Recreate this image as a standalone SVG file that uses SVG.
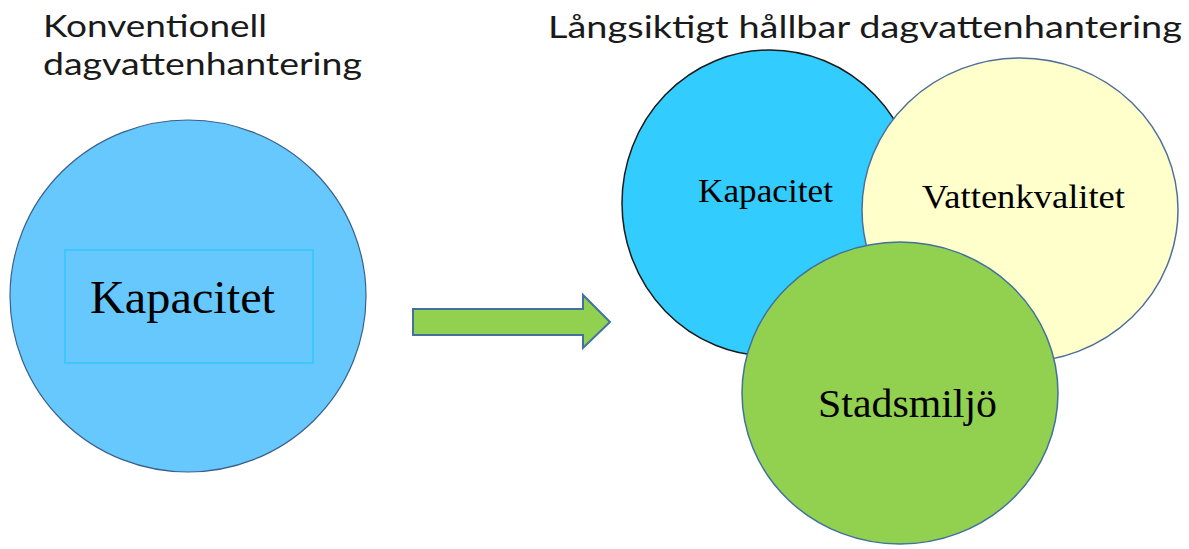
<svg xmlns="http://www.w3.org/2000/svg" width="1189" height="549" viewBox="0 0 1189 549">
  <style>
    .title { font-family: Lato, "Open Sans", sans-serif; font-size: 31px; fill: #1a1a1a; }
    .lbl { font-family: "Liberation Serif", "Times New Roman", serif; fill: #000; }
  </style>
  <rect width="1189" height="549" fill="#ffffff"/>

  <g id="title-left">
    <text class="title" x="43" y="37" textLength="224" lengthAdjust="spacingAndGlyphs">Konventionell</text>
    <text class="title" x="43" y="75" textLength="319" lengthAdjust="spacingAndGlyphs">dagvattenhantering</text>
  </g>
  <g id="title-right">
    <text class="title" x="548" y="38" textLength="634" lengthAdjust="spacingAndGlyphs">Långsiktigt hållbar dagvattenhantering</text>
  </g>

  <g id="node-konventionell">
    <ellipse cx="188" cy="296" rx="178" ry="176" fill="#66c8fc" stroke="#3a5f8c" stroke-width="1.2"/>
    <rect x="65" y="250" width="248" height="113" fill="none" stroke="#3fc6fa" stroke-width="2"/>
    <text class="lbl" x="90" y="313" font-size="46" textLength="185" lengthAdjust="spacingAndGlyphs">Kapacitet</text>
  </g>

  <g id="connectors">
    <path d="M413,309 L583,309 L583,295 L610,322 L583,348 L583,335 L413,335 Z" fill="#92d050" stroke="#41719c" stroke-width="2" stroke-linejoin="miter"/>
  </g>

  <g id="node-kapacitet">
    <ellipse cx="770" cy="203" rx="148" ry="153" fill="#33ccff" stroke="#1a1a1a" stroke-width="1.5"/>
    <text class="lbl" x="698" y="202" font-size="34" textLength="135" lengthAdjust="spacingAndGlyphs">Kapacitet</text>
  </g>

  <g id="node-vattenkvalitet">
    <ellipse cx="1020" cy="210" rx="158" ry="152" fill="#ffffcc" stroke="#4f6f9a" stroke-width="1.5"/>
    <text class="lbl" x="922" y="208" font-size="34" textLength="203" lengthAdjust="spacingAndGlyphs">Vattenkvalitet</text>
  </g>

  <g id="node-stadsmiljo">
    <ellipse cx="900" cy="393" rx="158" ry="151" fill="#92d050" stroke="#41719c" stroke-width="1.5"/>
    <text class="lbl" x="818" y="417" font-size="40" textLength="179" lengthAdjust="spacingAndGlyphs">Stadsmiljö</text>
  </g>
</svg>
